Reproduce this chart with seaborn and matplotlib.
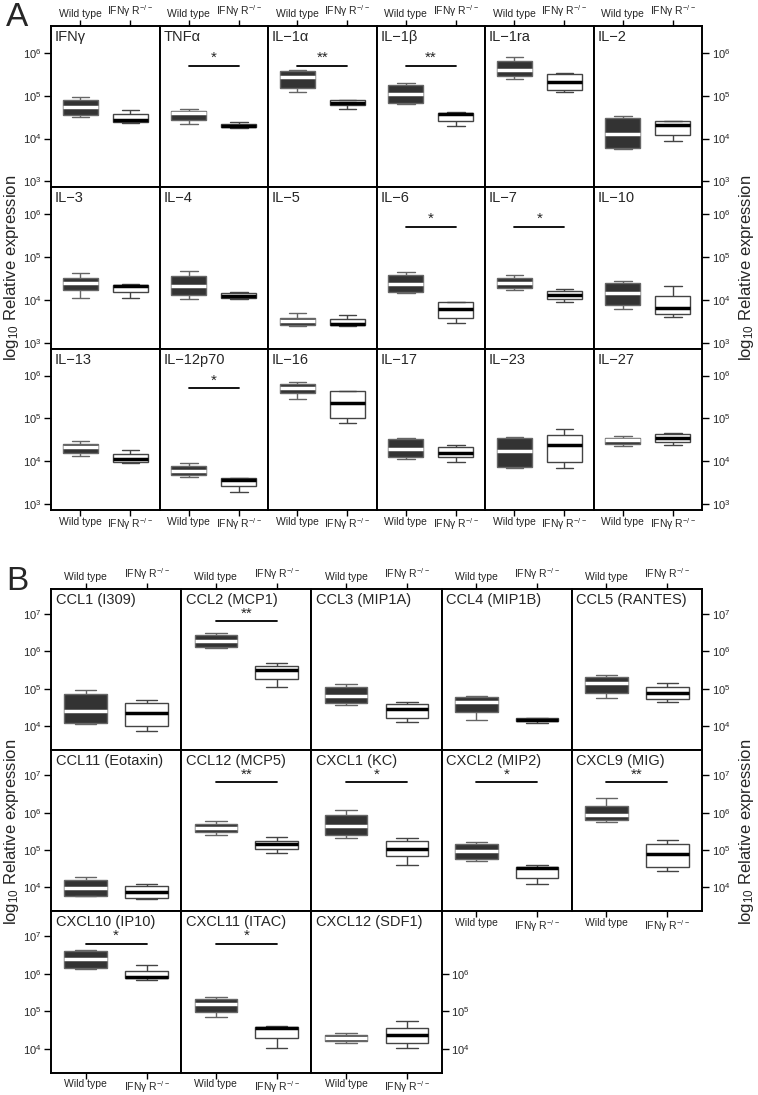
import numpy as np
import pandas as pd
import matplotlib
matplotlib.use('Agg')
import matplotlib.pyplot as plt
import seaborn as sns

sns.set_style('white')
plt.rcParams['font.family'] = ['Liberation Sans', 'DejaVu Sans']
plt.rcParams['mathtext.default'] = 'regular'

groups = ['Wild type', 'IFNγ R$^{-/-}$']

# Panel A : cytokines, log10 values [min, q1, median, q3, max]
a_names = ['IFNγ', 'TNFα', 'IL−1α', 'IL−1β', 'IL−1ra', 'IL−2',
           'IL−3', 'IL−4', 'IL−5', 'IL−6', 'IL−7', 'IL−10',
           'IL−13', 'IL−12p70', 'IL−16', 'IL−17', 'IL−23', 'IL−27']
a_wt = [[4.50, 4.56, 4.73, 4.89, 4.97], [4.35, 4.44, 4.59, 4.65, 4.69],
        [5.08, 5.19, 5.43, 5.57, 5.59], [4.80, 4.83, 5.05, 5.26, 5.29],
        [5.40, 5.47, 5.60, 5.81, 5.90], [3.75, 3.77, 4.11, 4.47, 4.52],
        [4.04, 4.23, 4.40, 4.52, 4.62], [4.02, 4.12, 4.32, 4.55, 4.68],
        [3.38, 3.40, 3.50, 3.58, 3.70], [4.15, 4.19, 4.36, 4.57, 4.66],
        [4.22, 4.28, 4.40, 4.50, 4.57], [3.79, 3.87, 4.15, 4.40, 4.45],
        [4.13, 4.18, 4.32, 4.41, 4.47], [3.62, 3.67, 3.77, 3.89, 3.96],
        [5.46, 5.59, 5.70, 5.80, 5.85], [4.05, 4.09, 4.28, 4.51, 4.53],
        [3.84, 3.86, 4.23, 4.54, 4.57], [4.35, 4.41, 4.49, 4.55, 4.59]]
a_ko = [[4.37, 4.39, 4.44, 4.57, 4.67], [4.25, 4.26, 4.30, 4.34, 4.38],
        [4.70, 4.78, 4.84, 4.89, 4.89], [4.29, 4.40, 4.57, 4.60, 4.61],
        [5.09, 5.14, 5.33, 5.51, 5.53], [3.94, 4.09, 4.31, 4.40, 4.41],
        [4.04, 4.18, 4.32, 4.35, 4.36], [4.02, 4.05, 4.10, 4.15, 4.18],
        [3.38, 3.40, 3.44, 3.56, 3.64], [3.47, 3.58, 3.78, 3.96, 3.96],
        [3.96, 4.02, 4.12, 4.21, 4.26], [3.60, 3.68, 3.80, 4.08, 4.33],
        [3.95, 3.97, 4.04, 4.16, 4.26], [3.28, 3.43, 3.56, 3.61, 3.61],
        [4.90, 5.00, 5.36, 5.63, 5.65], [3.97, 4.10, 4.20, 4.33, 4.38],
        [3.84, 3.98, 4.37, 4.60, 4.75], [4.37, 4.44, 4.55, 4.63, 4.65]]
a_sig = ['', '*', '**', '**', '', '',
         '', '', '', '*', '*', '',
         '', '*', '', '', '', '']

# Panel B : chemokines
b_names = ['CCL1 (I309)', 'CCL2 (MCP1)', 'CCL3 (MIP1A)', 'CCL4 (MIP1B)', 'CCL5 (RANTES)',
           'CCL11 (Eotaxin)', 'CCL12 (MCP5)', 'CXCL1 (KC)', 'CXCL2 (MIP2)', 'CXCL9 (MIG)',
           'CXCL10 (IP10)', 'CXCL11 (ITAC)', 'CXCL12 (SDF1)']
b_wt = [[4.07, 4.10, 4.41, 4.85, 4.97], [6.10, 6.12, 6.27, 6.44, 6.49],
        [4.57, 4.62, 4.82, 5.05, 5.13], [4.18, 4.39, 4.65, 4.78, 4.81],
        [4.75, 4.89, 5.15, 5.32, 5.37], [3.76, 3.77, 3.98, 4.21, 4.27],
        [5.41, 5.49, 5.60, 5.71, 5.79], [5.33, 5.41, 5.65, 5.95, 6.08],
        [4.72, 4.77, 4.98, 5.17, 5.22], [5.74, 5.81, 5.93, 6.18, 6.38],
        [6.14, 6.16, 6.39, 6.62, 6.64], [4.85, 4.97, 5.19, 5.34, 5.39],
        [4.15, 4.20, 4.28, 4.37, 4.42]]
b_ko = [[3.87, 4.02, 4.35, 4.63, 4.69], [5.05, 5.27, 5.51, 5.61, 5.69],
        [4.11, 4.22, 4.47, 4.60, 4.65], [4.08, 4.13, 4.18, 4.22, 4.23],
        [4.65, 4.74, 4.90, 5.06, 5.17], [3.70, 3.73, 3.87, 4.05, 4.09],
        [4.93, 5.04, 5.15, 5.23, 5.36], [4.61, 4.83, 5.04, 5.23, 5.31],
        [4.08, 4.24, 4.53, 4.56, 4.61], [4.43, 4.56, 4.90, 5.17, 5.27],
        [5.83, 5.88, 5.92, 6.08, 6.25], [4.02, 4.29, 4.54, 4.59, 4.60],
        [4.02, 4.16, 4.37, 4.56, 4.73]]
b_sig = ['', '**', '', '', '',
         '', '**', '*', '*', '**',
         '*', '*', '']

W, H = 758, 1095
fig = plt.figure(figsize=(W / 100, H / 100), dpi=100)


def draw_panel(rect, name, wt, ko, sig, ylim, sig_y, xlim, yticks_l, yticks_r,
               top=False, bottom=False):
    x0, y0, w, h = rect
    ax = fig.add_axes([x0 / W, 1 - (y0 + h) / H, w / W, h / H])
    df = pd.DataFrame({'group': [groups[0]] * len(wt) + [groups[1]] * len(ko),
                       'value': 10 ** np.array(wt + ko)})
    sns.boxplot(data=df[df.group == groups[0]], x='group', y='value', order=groups,
                color='#333333', saturation=1, linecolor='#666666', linewidth=1,
                width=0.7, whis=(0, 100), log_scale=True,
                medianprops=dict(color='white', linewidth=2.5), ax=ax)
    sns.boxplot(data=df[df.group == groups[1]], x='group', y='value', order=groups,
                color='white', saturation=1, linecolor='#444444', linewidth=1,
                width=0.7, whis=(0, 100), log_scale=True,
                medianprops=dict(color='black', linewidth=2.5), ax=ax)
    if sig:
        ax.plot([0, 1], [10 ** sig_y] * 2, color='black', lw=1.3)
        ax.text(0.5, 10 ** (sig_y + 0.02), sig, ha='center', va='bottom', fontsize=11)
    ax.text(0.035, 0.975, name, transform=ax.transAxes, ha='left', va='top', fontsize=10.5)
    ax.set_xlim(*xlim)
    ax.set_ylim(10 ** ylim[0], 10 ** ylim[1])
    ax.set_xlabel('')
    ax.set_ylabel('')
    ax.minorticks_off()
    ticks = sorted(set(yticks_l) | set(yticks_r))
    ax.set_yticks([10 ** k for k in ticks])
    ax.set_yticklabels([f'$10^{{{k}}}$' for k in ticks], fontsize=8)
    ax.set_xticks([0, 1])
    ax.set_xticklabels(groups, fontsize=7.5)
    ax.tick_params(axis='x', direction='out', length=4, width=1, color='black',
                   top=top, labeltop=top, bottom=bottom, labelbottom=bottom, pad=0.8)
    ax.tick_params(axis='y', direction='out', length=5, width=1, color='black',
                   left=bool(yticks_l), labelleft=bool(yticks_l),
                   right=bool(yticks_r), labelright=bool(yticks_r), pad=2)
    if yticks_r:
        for t in ax.yaxis.get_major_ticks():
            k = round(np.log10(t.get_loc()))
            t.tick2line.set_visible(k in yticks_r)
            t.label2.set_visible(k in yticks_r)
    for s in ax.spines.values():
        s.set_linewidth(1.4)
        s.set_color('black')
    return ax


# Panel A layout
a_left, a_cw, a_top, a_rh = 51, 108.5, 26, 161.3
a_ticks = [3, 4, 5, 6]
for i, name in enumerate(a_names):
    r, c = divmod(i, 6)
    draw_panel((a_left + c * a_cw, a_top + r * a_rh, a_cw, a_rh), name,
               a_wt[i], a_ko[i], a_sig[i], (2.86, 6.63), 5.7, (-0.585, 1.585),
               a_ticks if c == 0 else [], a_ticks if c == 5 else [],
               top=(r == 0), bottom=(r == 2))

# Panel B layout
b_left, b_cw, b_top, b_rh = 51, 130.2, 589, 161.2
b_ticks = [4, 5, 6, 7]
for i, name in enumerate(b_names):
    r, c = divmod(i, 5)
    if r < 2:
        right = b_ticks if c == 4 else []
    else:
        right = [4, 5, 6] if c == 2 else []
    draw_panel((b_left + c * b_cw, b_top + r * b_rh, b_cw, b_rh), name,
               b_wt[i], b_ko[i], b_sig[i], (3.36, 7.67), 6.81, (-0.57, 1.57),
               b_ticks if c == 0 else [], right,
               top=(r == 0), bottom=(r == 2 or (r == 1 and c >= 3)))

ylab = 'log$_{10}$ Relative expression'
for yc in [268, 832]:
    fig.text(12 / W, 1 - yc / H, ylab, rotation=90, ha='center', va='center', fontsize=12)
    fig.text(746 / W, 1 - yc / H, ylab, rotation=90, ha='center', va='center', fontsize=12)
fig.text(6 / W, 1 - 2 / H, 'A', ha='left', va='top', fontsize=24)
fig.text(6 / W, 1 - 566 / H, 'B', ha='left', va='top', fontsize=24)

fig.savefig('out.png', dpi=100)
